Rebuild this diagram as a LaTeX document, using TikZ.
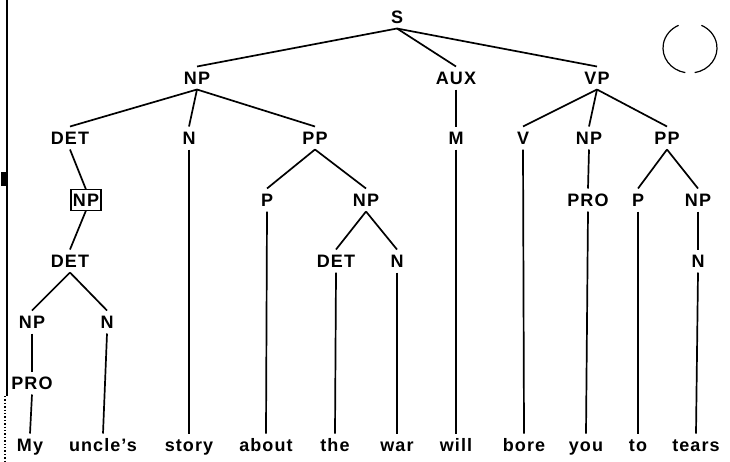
\documentclass[tikz,border=0pt]{standalone}
\usepackage{fontspec}
\setmainfont{Liberation Sans}[LetterSpace = 6]
\usepackage{tikz}

\begin{document}
\begin{tikzpicture} [x = 1pt, y = -1pt, line width = 1.7pt,
  lbl/.style = {font = \fontsize{18}{20}\selectfont\bfseries, text height = 13pt, text depth = 0pt,
    inner xsep = 2pt, inner ysep = 5pt, outer sep = 0pt},
  boxed/.style = {lbl, draw, line width = 1.8pt, inner ysep = 4pt}]
\useasboundingbox (0, 0) rectangle (730, 461);

% scan edge and punch hole
\draw[line width = 1.8pt] (7, 0) -- (7, 396);
\draw[line width = 1.4pt, dotted] (5, 396) -- (5, 461);
\fill (1, 172) rectangle (8, 186);
\draw[line width = 1.2pt] (690, 48) ++(100:27 and 25) arc [start angle = 100, end angle = 245, x radius = 27, y radius = 25];
\draw[line width = 1.2pt] (690, 48) ++(80:27 and 25) arc [start angle = 80, end angle = -65, x radius = 27, y radius = 25];

% tree labels
\node[lbl] (s) at (397, 17){S};
\node[lbl] (np) at (197, 78){NP};
\node[lbl] (aux) at (456, 78){AUX};
\node[lbl] (vp) at (597, 78){VP};
\node[lbl] (det) at (70, 138){DET};
\node[lbl] (n) at (189, 138){N};
\node[lbl] (pp) at (315, 138){PP};
\node[lbl] (m) at (456, 138){M};
\node[lbl] (v) at (523, 138){V};
\node[lbl] (vnp) at (589, 138){NP};
\node[lbl] (vpp) at (667, 138){PP};
\node[boxed] (dnp) at (86, 200){NP};
\node[lbl] (p) at (267, 200){P};
\node[lbl] (pnp) at (366, 200){NP};
\node[lbl] (vpro) at (588, 200){PRO};
\node[lbl] (vp2) at (638, 200){P};
\node[lbl] (vnp2) at (698, 200){NP};
\node[lbl] (det2) at (70, 261){DET};
\node[lbl] (det3) at (336, 261){DET};
\node[lbl] (n2) at (397, 261){N};
\node[lbl] (n3) at (698, 261){N};
\node[lbl] (np2) at (32, 322){NP};
\node[lbl] (n4) at (107, 322){N};
\node[lbl] (pro) at (32, 383){PRO};

% words
\node[lbl] (w1) at (30, 445){My};
\node[lbl] (w2) at (103, 445){uncle's};
\node[lbl] (w3) at (189, 445){story};
\node[lbl] (w4) at (266, 445){about};
\node[lbl] (w5) at (335, 445){the};
\node[lbl] (w6) at (397, 445){war};
\node[lbl] (w7) at (456, 445){will};
\node[lbl] (w8) at (524, 445){bore};
\node[lbl] (w9) at (586, 445){you};
\node[lbl] (w10) at (638, 445){to};
\node[lbl] (w11) at (696, 445){tears};

% branches
\draw (s.south) -- (np.north);
\draw (s.south) -- (aux.north);
\draw (s.south) -- (vp.north);
\draw (np.south) -- (det.north);
\draw (np.south) -- (n.north);
\draw (np.south) -- (pp.north);
\draw (aux.south) -- (m.north);
\draw (vp.south) -- (v.north);
\draw (vp.south) -- (vnp.north);
\draw (vp.south) -- (vpp.north);
\draw (det.south) -- (dnp.north);
\draw (pp.south) -- (p.north);
\draw (pp.south) -- (pnp.north);
\draw (vnp.south) -- (vpro.north);
\draw (vpp.south) -- (vp2.north);
\draw (vpp.south) -- (vnp2.north);
\draw (dnp.south) -- (det2.north);
\draw (pnp.south) -- (det3.north);
\draw (pnp.south) -- (n2.north);
\draw (vnp2.south) -- (n3.north);
\draw (det2.south) -- (np2.north);
\draw (det2.south) -- (n4.north);
\draw (np2.south) -- (pro.north);

% leaves
\draw (pro.south) -- (w1.north);
\draw (n4.south) -- (w2.north);
\draw (n.south) -- (w3.north);
\draw (p.south) -- (w4.north);
\draw (det3.south) -- (w5.north);
\draw (n2.south) -- (w6.north);
\draw (m.south) -- (w7.north);
\draw (v.south) -- (w8.north);
\draw (vpro.south) -- (w9.north);
\draw (vp2.south) -- (w10.north);
\draw (n3.south) -- (w11.north);
\end{tikzpicture}
\end{document}
